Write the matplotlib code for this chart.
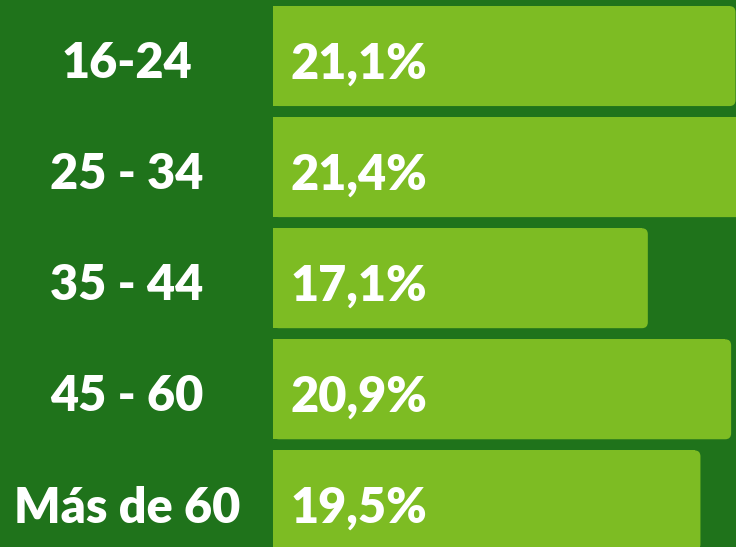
import matplotlib
matplotlib.use("Agg")
import matplotlib.pyplot as plt
from matplotlib.patches import FancyBboxPatch

# --------------------
# DATA
# --------------------
age_groups = ['16-24', '25 - 34', '35 - 44', '45 - 60', 'Más de 60']
shares = [21.1, 21.4, 17.1, 20.9, 19.5]
share_labels = ['21,1%', '21,4%', '17,1%', '20,9%', '19,5%']

# --------------------
# STYLE
# --------------------
BG = '#1f731b'
BAR = '#7dbc23'
FONT = 'Lato'

fig = plt.figure(figsize=(7.36, 5.47), dpi=100, facecolor=BG)
ax = fig.add_axes([0, 0, 1, 1])
ax.set_facecolor(BG)

px_per_unit = 21.92
ax.set_xlim(-273 / px_per_unit, 463 / px_per_unit)
ax.set_ylim(4.42, -0.505)
ax.axis('off')

bar_h = 0.9
radius = 0.27
for i, v in enumerate(shares):
    # square left side, rounded right side
    ax.barh(i, v - radius, height=bar_h, left=0, color=BAR, linewidth=0)
    ax.add_patch(FancyBboxPatch((0, i - bar_h / 2), v, bar_h,
                                boxstyle=f"round,pad=0,rounding_size={radius}",
                                mutation_aspect=0.2, facecolor=BAR, linewidth=0))

    ax.text(-6.66, i + 0.2, age_groups[i], ha='center', va='baseline',
            color='white', fontsize=35, fontweight='heavy', family=FONT)
    ax.text(3.92, i + 0.2, share_labels[i], ha='center', va='baseline',
            color='white', fontsize=35, fontweight='heavy', family=FONT)

plt.savefig("out.png", dpi=100, facecolor=BG)
